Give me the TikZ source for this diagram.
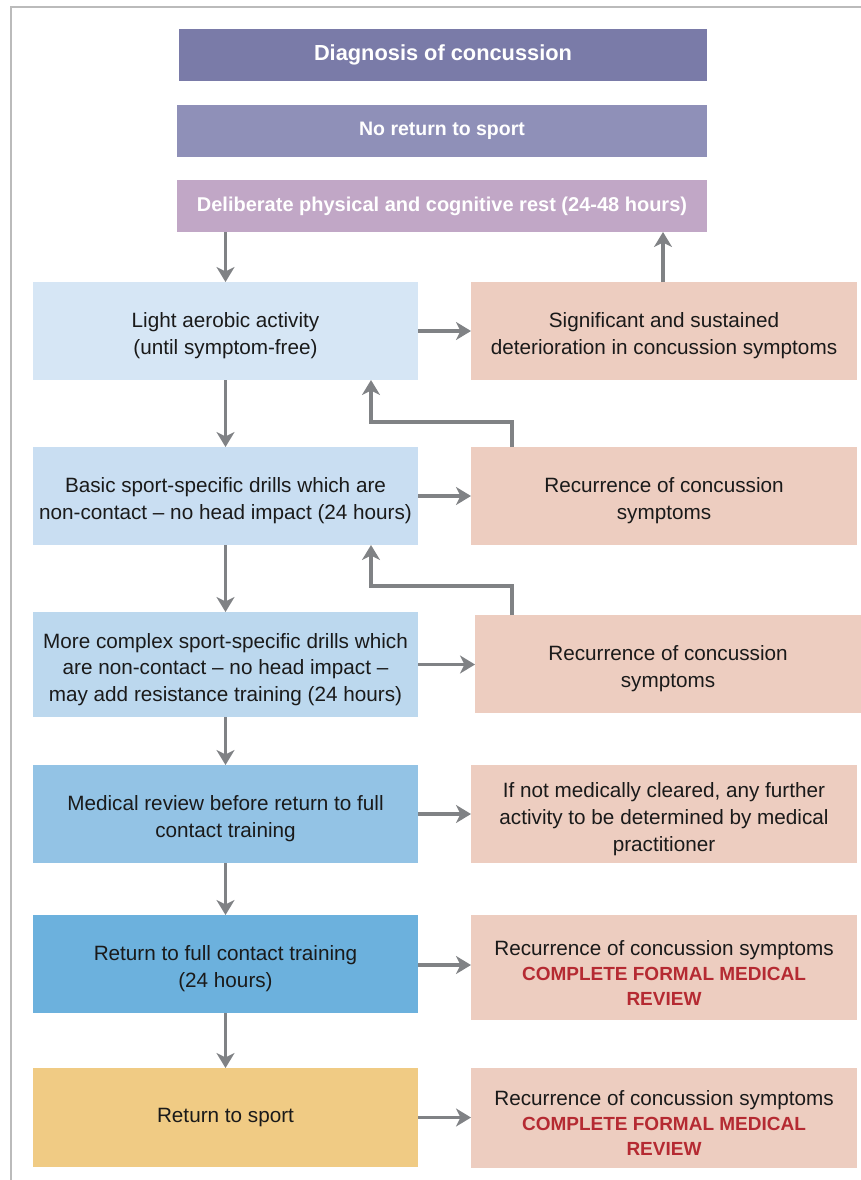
\documentclass[tikz,border=0pt]{standalone}
\usepackage{fontspec}
\setmainfont{Liberation Sans}
\usetikzlibrary{arrows.meta}
\definecolor{cTitle}{HTML}{7A7BA8}
\definecolor{cNoRet}{HTML}{8F90B8}
\definecolor{cRest}{HTML}{C1A7C6}
\definecolor{cL1}{HTML}{D6E6F5}
\definecolor{cL2}{HTML}{C9DEF2}
\definecolor{cL3}{HTML}{BCD8EE}
\definecolor{cL4}{HTML}{93C3E5}
\definecolor{cL5}{HTML}{6CB1DD}
\definecolor{cL6}{HTML}{F0CB84}
\definecolor{cR}{HTML}{EDCDC0}
\definecolor{cArrow}{HTML}{808285}
\definecolor{cFrame}{HTML}{BBBBBB}
\definecolor{cText}{HTML}{1A1A1A}
\definecolor{cRed}{HTML}{B52A32}
\tikzset{
  box/.style={rectangle, inner sep=0pt, outer sep=0pt, align=center, text=cText,
    font=\fontsize{20.7}{26.8}\selectfont},
  headbox/.style={rectangle, inner sep=0pt, outer sep=0pt, align=center, text=white,
    minimum width=530, minimum height=52, font=\bfseries\fontsize{19.5}{24}\selectfont},
  leftbox/.style={box, minimum width=385, minimum height=98},
  rightbox/.style={box, fill=cR, minimum width=386, minimum height=98},
  redbox/.style={rightbox, font=\fontsize{20.7}{25}\selectfont},
  flow/.style={draw=cArrow, line width=3.5pt, -{Stealth[length=15pt, width=18pt, inset=4.5pt]}},
}
\newcommand{\tpst}{\rule{0pt}{25pt}}
\newcommand{\redtxt}[1]{{\color{cRed}\bfseries\fontsize{19}{25}\selectfont #1}}
\begin{document}
\begin{tikzpicture}[x=1pt,y=-1pt]
\useasboundingbox (0,0) rectangle (861,1180);
\draw[cFrame, line width=2pt] (861,7) -- (11,7) -- (11,1180);

\node[headbox, fill=cTitle, minimum width=528, font=\bfseries\fontsize{21.8}{26}\selectfont] (title) at (443,55) {Diagnosis of concussion};
\node[headbox, fill=cNoRet] (noret) at (442,131) {No return to sport};
\node[headbox, fill=cRest, font=\bfseries\fontsize{20}{24}\selectfont] (rest) at (442,206) {Deliberate physical and cognitive rest (24-48 hours)};

\node[leftbox, fill=cL1] (L1) at (225.5,331) {\tpst Light aerobic activity\\(until symptom-free)};
\node[leftbox, fill=cL2] (L2) at (225.5,496) {\tpst Basic sport-specific drills which are\\non-contact \textendash{} no head impact (24 hours)};
\node[leftbox, fill=cL3, minimum height=105] (L3) at (225.5,664.5) {\tpst More complex sport-specific drills which\\are non-contact \textendash{} no head impact \textendash\\may add resistance training (24 hours)};
\node[leftbox, fill=cL4] (L4) at (225.5,814) {\tpst Medical review before return to full\\contact training};
\node[leftbox, fill=cL5] (L5) at (225.5,964) {\tpst Return to full contact training\\(24 hours)};
\node[leftbox, fill=cL6, minimum height=99] (L6) at (225.5,1117.5) {Return to sport};

\node[rightbox] (R1) at (664,331) {\tpst Significant and sustained\\deterioration in concussion symptoms};
\node[rightbox] (R2) at (664,496) {\tpst Recurrence of concussion\\symptoms};
\node[rightbox] (R3) at (668,664) {\tpst Recurrence of concussion\\symptoms};
\node[rightbox] (R4) at (664,814) {\tpst If not medically cleared, any further\\activity to be determined by medical\\practitioner};
\node[redbox, minimum height=105] (R5) at (664,967.5) {\tpst Recurrence of concussion symptoms\\\redtxt{COMPLETE FORMAL MEDICAL}\\\redtxt{REVIEW}};
\node[redbox, minimum height=100] (R6) at (664,1118) {\tpst Recurrence of concussion symptoms\\\redtxt{COMPLETE FORMAL MEDICAL}\\\redtxt{REVIEW}};

% down flow
\draw[flow] (rest.south -| L1.north) -- (L1.north);
\draw[flow] (L1.south) -- (L2.north);
\draw[flow] (L2.south) -- (L3.north);
\draw[flow] (L3.south) -- (L4.north);
\draw[flow] (L4.south) -- (L5.north);
\draw[flow] (L5.south) -- (L6.north);

% right flow
\draw[flow] (L1.east) -- (L1.east -| R1.west);
\draw[flow] (L2.east) -- (L2.east -| R2.west);
\draw[flow] (L3.east) -- (L3.east -| R3.west);
\draw[flow] (L4.east) -- (L4.east -| R4.west);
\draw[flow] ([yshift=-1pt]L5.east) -- ([yshift=-1pt]L5.east -| R5.west);
\draw[flow] (L6.east) -- (L6.east -| R6.west);

% up / feedback
\draw[flow] ([xshift=-1pt]R1.north) -- ([xshift=-1pt]R1.north |- rest.south);
\coordinate (f1) at ([xshift=338pt]L1.south west);
\coordinate (f2) at ([xshift=338pt]L2.south west);
\draw[flow] ([xshift=41pt]R2.north west) -- ++(0,-25) -| (f1);
\draw[flow] ([xshift=37pt]R3.north west) -- ++(0,-29) -| (f2);
\end{tikzpicture}
\end{document}
